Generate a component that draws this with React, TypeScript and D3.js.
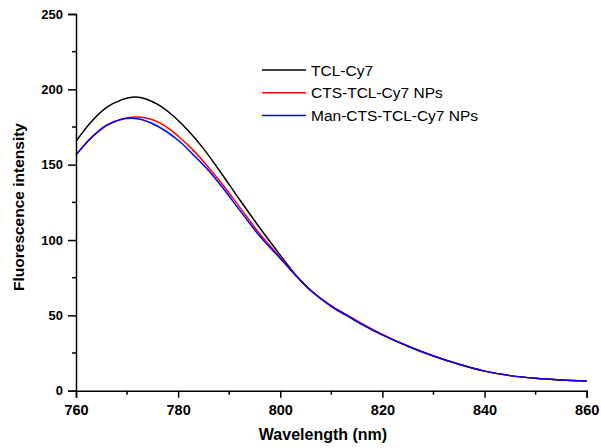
import React, { useEffect, useRef } from 'react'
import * as d3 from 'd3'

// wavelength (nm) / fluorescence intensity
const tclWl = [760, 763, 766, 769, 771, 773, 776, 779, 782, 785, 788, 792, 796, 800, 803, 806, 810, 813, 816, 820, 825, 830, 835, 840, 845, 850, 855, 860]
const tclVal = [165.5, 178.5, 188, 193.2, 194.8, 194.3, 190, 182.5, 172.5, 160.5, 146.5, 127, 108, 90, 77, 66.5, 56, 50, 44, 37, 29.5, 23, 17.5, 13, 10, 8.2, 7.1, 6.4]

const ctsWl = [760, 763, 766, 769, 772, 775, 778, 780, 783, 786, 789, 792, 796, 800, 803, 806, 810, 813, 816, 820, 825, 830, 835, 840, 845, 850, 855, 860]
const ctsVal = [156.5, 167.8, 176, 180.4, 181.7, 179.8, 174.5, 169, 159.5, 148, 135.5, 122, 104, 88.5, 76.7, 66.5, 56.3, 50.4, 44.5, 37.4, 29.7, 23.1, 17.6, 13, 10, 8.2, 7.1, 6.4]

const manWl = [760, 763, 766, 769, 771, 773, 776, 780, 783, 786, 789, 792, 796, 800, 803, 806, 810, 813, 816, 820, 825, 830, 835, 840, 845, 850, 855, 860]
const manVal = [156.5, 168, 176.3, 180.2, 180.8, 179.8, 175.5, 166.2, 156.5, 146, 133.5, 120, 102.5, 87.8, 76.5, 66.3, 56, 50, 44, 37, 29.5, 23, 17.5, 13, 10, 8.2, 7.1, 6.4]

const seriesNames = ['TCL-Cy7', 'CTS-TCL-Cy7 NPs', 'Man-CTS-TCL-Cy7 NPs']
const seriesColors = ['#000000', '#ff0000', '#0000ff']

const xTicks = [760, 780, 800, 820, 840, 860]
const xMinor = [770, 790, 810, 830, 850]
const yTicks = [0, 50, 100, 150, 200, 250]
const yMinor = [25, 75, 125, 175, 225]

const W = 601
const H = 448
const font = '"Liberation Sans", Arial, sans-serif'

export default function App() {
  const gRef = useRef<SVGGElement>(null)

  const x = d3.scaleLinear().domain([760, 860]).range([76, 586.7])
  const y = d3.scaleLinear().domain([0, 250]).range([390.7, 14])

  const line = d3.line<[number, number]>()
    .x(d => x(d[0]))
    .y(d => y(d[1]))
    .curve(d3.curveCatmullRom.alpha(0.5))

  const series = [
    tclWl.map((w, i) => [w, tclVal[i]] as [number, number]),
    ctsWl.map((w, i) => [w, ctsVal[i]] as [number, number]),
    manWl.map((w, i) => [w, manVal[i]] as [number, number]),
  ]

  useEffect(() => {
    const g = d3.select(gRef.current)
    g.selectAll('*').remove()

    const xa = g.append('g').attr('transform', `translate(0,${y(0)})`)
      .call(d3.axisBottom(x).tickValues(xTicks).tickSize(7).tickPadding(7).tickFormat(d3.format('d')))
    xa.append('g').selectAll('line').data(xMinor).join('line')
      .attr('x1', d => x(d)).attr('x2', d => x(d)).attr('y1', 0).attr('y2', 4)
    xa.selectAll('text').attr('font-size', 14.5)

    const ya = g.append('g').attr('transform', `translate(${x(760)},0)`)
      .call(d3.axisLeft(y).tickValues(yTicks).tickSize(8).tickPadding(5).tickFormat(d3.format('d')))
    ya.append('g').selectAll('line').data(yMinor).join('line')
      .attr('x1', 0).attr('x2', -4).attr('y1', d => y(d)).attr('y2', d => y(d))
    ya.selectAll('text').attr('font-size', 13)

    g.selectAll('.domain').attr('stroke', '#000').attr('stroke-width', 1.5)
    g.selectAll('line').attr('stroke', '#000').attr('stroke-width', 1.5)
    g.selectAll('text')
      .attr('font-family', font)
      .attr('font-weight', 'bold')
      .attr('fill', '#000')
  }, [])

  return (
    <svg width={W} height={H} style={{ position: 'absolute', left: 0, top: 0, background: '#fff' }}>
      {series.map((s, i) => (
        <path key={i} d={line(s) || ''} fill="none" stroke={seriesColors[i]} strokeWidth={1.5} />
      ))}
      <g ref={gRef} />
      <text x={323} y={440} textAnchor="middle" fontFamily={font} fontWeight="bold" fontSize={16}>
        Wavelength (nm)
      </text>
      <text transform="translate(24,207) rotate(-90)" textAnchor="middle" fontFamily={font} fontWeight="bold" fontSize={15.5}>
        Fluorescence intensity
      </text>
      {seriesNames.map((n, i) => (
        <g key={n} transform={`translate(262,${70 + i * 22.8})`}>
          <line x1={0} x2={44} y1={0} y2={0} stroke={seriesColors[i]} strokeWidth={1.5} />
          <text x={49} y={5.5} fontFamily={font} fontSize={15.5}>{n}</text>
        </g>
      ))}
    </svg>
  )
}
